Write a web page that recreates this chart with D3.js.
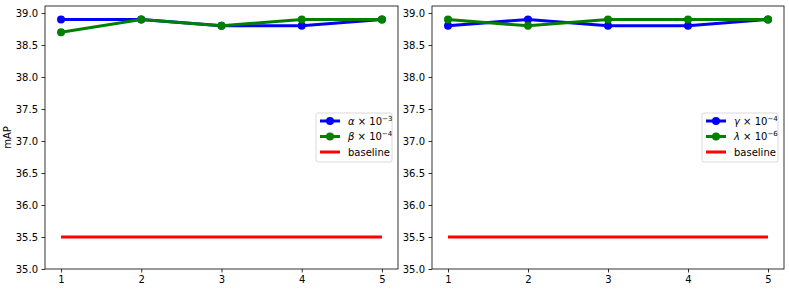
<!DOCTYPE html>
<html>
<head>
<meta charset="utf-8">
<script src="https://cdn.jsdelivr.net/npm/d3@7"></script>
<style>
  body { margin: 0; background: #fff; }
  svg { font-family: "DejaVu Sans", sans-serif; }
</style>
</head>
<body>
<div id="chart"></div>
<script>
// data
const steps = [1, 2, 3, 4, 5];
const alphaVals = [38.9, 38.9, 38.8, 38.8, 38.9];
const betaVals = [38.7, 38.9, 38.8, 38.9, 38.9];
const gammaVals = [38.8, 38.9, 38.8, 38.8, 38.9];
const lambdaVals = [38.9, 38.8, 38.9, 38.9, 38.9];
const baselineVals = [35.5, 35.5, 35.5, 35.5, 35.5];
const yTicks = [35.0, 35.5, 36.0, 36.5, 37.0, 37.5, 38.0, 38.5, 39.0];

const width = 789, height = 289;
const svg = d3.select("#chart").append("svg")
    .attr("width", width)
    .attr("height", height);

const panels = [
    { left: 45, right: 398, series: [
        { name: "α", exp: "−3", values: alphaVals, color: "#0000ff" },
        { name: "β", exp: "−4", values: betaVals, color: "#008000" }
    ], legendX: 316, ylabel: true },
    { left: 432, right: 784, series: [
        { name: "γ", exp: "−4", values: gammaVals, color: "#0000ff" },
        { name: "λ", exp: "−6", values: lambdaVals, color: "#008000" }
    ], legendX: 702, ylabel: false }
];

const plotTop = 6, plotBottom = 269;

panels.forEach(p => {
    const x = d3.scaleLinear().domain([0.8, 5.2]).range([p.left, p.right]);
    const y = d3.scaleLinear().domain([35, 39.11]).range([plotBottom, plotTop]);
    const g = svg.append("g");

    // axes
    g.append("g")
        .attr("transform", `translate(0,${plotBottom})`)
        .call(d3.axisBottom(x).tickValues(steps).tickFormat(d3.format("d")).tickSize(3.5).tickPadding(3.5))
        .call(a => a.select(".domain").remove());
    g.append("g")
        .attr("transform", `translate(${p.left},0)`)
        .call(d3.axisLeft(y).tickValues(yTicks).tickFormat(d3.format(".1f")).tickSize(3.5).tickPadding(3.5))
        .call(a => a.select(".domain").remove());
    g.selectAll(".tick text").attr("font-size", 10).attr("fill", "#000")
        .style("font-family", "DejaVu Sans");
    g.selectAll(".tick line").attr("stroke", "#000").attr("stroke-width", 0.8);

    // frame
    g.append("rect")
        .attr("x", p.left).attr("y", plotTop)
        .attr("width", p.right - p.left).attr("height", plotBottom - plotTop)
        .attr("fill", "none").attr("stroke", "#000").attr("stroke-width", 0.8);

    const line = d3.line().x((d, i) => x(steps[i])).y(d => y(d));

    // baseline
    g.append("path").datum(baselineVals)
        .attr("fill", "none").attr("stroke", "#ff0000").attr("stroke-width", 3)
        .attr("d", line);

    p.series.forEach(s => {
        g.append("path").datum(s.values)
            .attr("fill", "none").attr("stroke", s.color).attr("stroke-width", 3)
            .attr("d", line);
        g.selectAll(null).data(s.values).enter().append("circle")
            .attr("cx", (d, i) => x(steps[i])).attr("cy", d => y(d))
            .attr("r", 4).attr("fill", s.color);
    });

    // legend
    const lg = g.append("g").attr("transform", `translate(${p.legendX},113)`);
    lg.append("rect").attr("width", 76).attr("height", 49).attr("rx", 2)
        .attr("fill", "#fff").attr("fill-opacity", 0.8)
        .attr("stroke", "#d0d0d0").attr("stroke-width", 0.8);
    const items = p.series.map(s => ({ label: s, color: s.color, marker: true }))
        .concat([{ label: null, color: "#ff0000", marker: false }]);
    items.forEach((it, i) => {
        const cy = 8 + i * 15.5;
        lg.append("line").attr("x1", 4).attr("x2", 24).attr("y1", cy).attr("y2", cy)
            .attr("stroke", it.color).attr("stroke-width", 3);
        if (it.marker) lg.append("circle").attr("cx", 14).attr("cy", cy).attr("r", 4).attr("fill", it.color);
        const t = lg.append("text").attr("x", 32).attr("y", cy + 3.5)
            .attr("font-size", 10).attr("fill", "#000");
        if (it.label) {
            t.append("tspan").attr("font-style", "italic").text(it.label.name);
            t.append("tspan").text(" × 10");
            t.append("tspan").attr("font-size", 7).attr("dy", -4).text(it.label.exp);
        } else {
            t.text("baseline");
        }
    });

    if (p.ylabel) {
        g.append("text")
            .attr("transform", `translate(11,${(plotTop + plotBottom) / 2}) rotate(-90)`)
            .attr("text-anchor", "middle").attr("font-size", 10)
            .text("mAP");
    }
});
</script>
</body>
</html>
